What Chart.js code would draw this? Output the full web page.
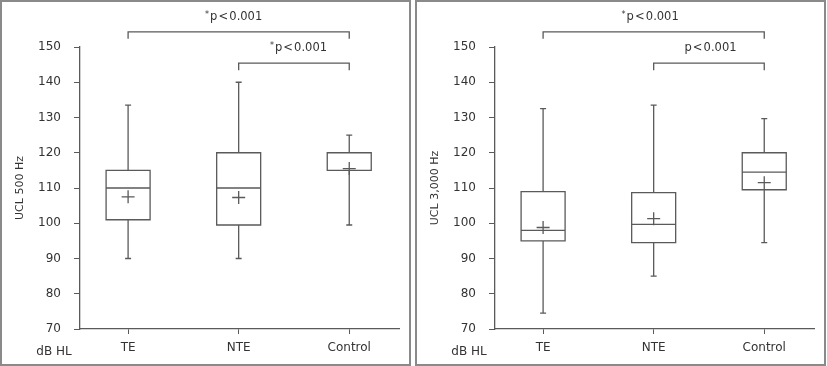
<!DOCTYPE html>
<html>
<head>
<meta charset="utf-8">
<script src="https://cdn.jsdelivr.net/npm/chart.js@4.4.1/dist/chart.umd.min.js"></script>
<style>
  body { margin: 0; background: #fff; }
  .frame { position: absolute; top: 0; width: 407px; height: 362px; border: 2px solid #8a8a8a; }
  canvas { position: absolute; top: 0; }
</style>
</head>
<body>
<div class="frame" style="left:0"></div>
<div class="frame" style="left:415px"></div>
<canvas id="hz500" width="410" height="366" style="left:0"></canvas>
<canvas id="hz3000" width="410" height="366" style="left:415px"></canvas>
<script>
const groups = ['TE', 'NTE', 'Control'];
const yTicks = [70, 80, 90, 100, 110, 120, 130, 140, 150];

// UCL 500 Hz
const hz500Low = [90, 90, 99.5];
const hz500Q1 = [101, 99.5, 115];
const hz500Median = [110, 110, 115];
const hz500Q3 = [115, 120, 120];
const hz500High = [133.5, 140, 125];
const hz500Mean = [107.5, 107.3, 115.5];
const hz500Labels = ['*p<0.001', '*p<0.001'];

// UCL 3,000 Hz
const hz3000Low = [74.5, 85, 94.5];
const hz3000Q1 = [95, 94.5, 109.5];
const hz3000Median = [98, 99.7, 114.5];
const hz3000Q3 = [109, 108.7, 120];
const hz3000High = [132.5, 133.5, 129.7];
const hz3000Mean = [98.8, 101.3, 111.5];
const hz3000Labels = ['*p<0.001', 'p<0.001'];

// significance brackets (group index from / to, level in dB HL)
const bracketFrom = [1, 2];
const bracketTo = [3, 3];
const bracketLevel = [154.3, 145.4];

const lineColor = '#5a5a5a';
const textColor = '#333';
const fontFamily = '"DejaVu Sans", sans-serif';

const boxPlugin = {
    id: 'boxes',
    beforeDatasetsDraw(chart, args, opts) {
        const { ctx, scales: { x, y } } = chart;
        ctx.save();
        ctx.strokeStyle = lineColor;
        ctx.lineWidth = 1.3;
        opts.low.forEach((lo, i) => {
            const cx = x.getPixelForValue(i + 1);
            const yLo = y.getPixelForValue(lo), yHi = y.getPixelForValue(opts.high[i]);
            const yQ1 = y.getPixelForValue(opts.q1[i]), yQ3 = y.getPixelForValue(opts.q3[i]);
            const yMed = y.getPixelForValue(opts.median[i]);
            const hw = 22, cap = 3;
            ctx.beginPath();
            ctx.rect(cx - hw, yQ3, hw * 2, yQ1 - yQ3);
            ctx.moveTo(cx - hw, yMed); ctx.lineTo(cx + hw, yMed);
            ctx.moveTo(cx, yQ3); ctx.lineTo(cx, yHi);
            ctx.moveTo(cx - cap, yHi); ctx.lineTo(cx + cap, yHi);
            ctx.moveTo(cx, yQ1); ctx.lineTo(cx, yLo);
            ctx.moveTo(cx - cap, yLo); ctx.lineTo(cx + cap, yLo);
            ctx.stroke();
        });
        ctx.restore();
    },
    afterDraw(chart, args, opts) {
        const { ctx, scales: { x, y } } = chart;
        ctx.save();
        ctx.strokeStyle = lineColor;
        ctx.lineWidth = 1.3;
        bracketFrom.forEach((from, i) => {
            const x1 = x.getPixelForValue(from), x2 = x.getPixelForValue(bracketTo[i]);
            const yb = y.getPixelForValue(bracketLevel[i]);
            ctx.beginPath();
            ctx.moveTo(x1, yb + 7); ctx.lineTo(x1, yb); ctx.lineTo(x2, yb); ctx.lineTo(x2, yb + 7);
            ctx.stroke();
            // label
            const label = opts.labels[i];
            const star = label.startsWith('*');
            const rest = (star ? label.slice(1) : label).replace('<', '\u200a<\u200a');
            ctx.font = '11.5px ' + fontFamily;
            const wRest = ctx.measureText(rest).width;
            ctx.font = '8px ' + fontFamily;
            const wStar = star ? ctx.measureText('*').width + 1 : 0;
            const cxText = (x1 + x2) / 2 + opts.textShift[i];
            const start = cxText - (wRest + wStar) / 2;
            ctx.fillStyle = textColor;
            ctx.textBaseline = 'middle';
            ctx.textAlign = 'left';
            if (star) ctx.fillText('*', start, yb - 17);
            ctx.font = '11.5px ' + fontFamily;
            ctx.fillText(rest, start + wStar, yb - 15);
        });
        ctx.font = '12px ' + fontFamily;
        ctx.fillStyle = textColor;
        ctx.textAlign = 'center';
        ctx.textBaseline = 'middle';
        ctx.fillText('dB HL', 54, 352);
        ctx.restore();
    }
};

function makeChart(id, title, low, q1, median, q3, high, mean, labels, textShift) {
    const tickFont = { family: fontFamily, size: 12 };
    return new Chart(document.getElementById(id), {
        type: 'scatter',
        data: {
            datasets: [{
                data: mean.map((m, i) => ({ x: i + 1, y: m })),
                pointStyle: 'cross',
                pointRadius: 6.5,
                borderColor: lineColor,
                borderWidth: 1.3
            }]
        },
        options: {
            responsive: false,
            animation: false,
            layout: { padding: { top: 47, right: 11, left: 0, bottom: 0 } },
            plugins: {
                legend: { display: false },
                tooltip: { enabled: false },
                boxes: { low, q1, median, q3, high, labels, textShift }
            },
            scales: {
                x: {
                    type: 'linear',
                    min: 0.565,
                    max: 3.45,
                    afterBuildTicks: s => { s.ticks = groups.map((g, i) => ({ value: i + 1 })); },
                    afterFit: s => { s.height = 37; },
                    ticks: {
                        callback: v => groups[v - 1],
                        color: textColor, font: tickFont, padding: 7,
                        autoSkip: false, maxRotation: 0
                    },
                    grid: { drawOnChartArea: false, drawTicks: true, tickLength: 5, color: lineColor },
                    border: { color: lineColor, width: 1.3 }
                },
                y: {
                    min: 70,
                    max: 150,
                    afterBuildTicks: s => { s.ticks = yTicks.map(v => ({ value: v })); },
                    afterFit: s => { s.width = 80; },
                    ticks: { color: textColor, font: tickFont, padding: 13 },
                    grid: { drawOnChartArea: false, drawTicks: true, tickLength: 6, color: lineColor },
                    border: { color: lineColor, width: 1.3 },
                    title: {
                        display: true, text: title, color: textColor,
                        font: { family: fontFamily, size: 11 }, padding: { top: 14, bottom: 0 }
                    }
                }
            }
        },
        plugins: [boxPlugin]
    });
}

makeChart('hz500', 'UCL 500 Hz', hz500Low, hz500Q1, hz500Median, hz500Q3, hz500High, hz500Mean,
    hz500Labels, [-5, 4.5]);
makeChart('hz3000', 'UCL 3,000 Hz', hz3000Low, hz3000Q1, hz3000Median, hz3000Q3, hz3000High, hz3000Mean,
    hz3000Labels, [-3.5, 1.5]);
</script>
</body>
</html>
